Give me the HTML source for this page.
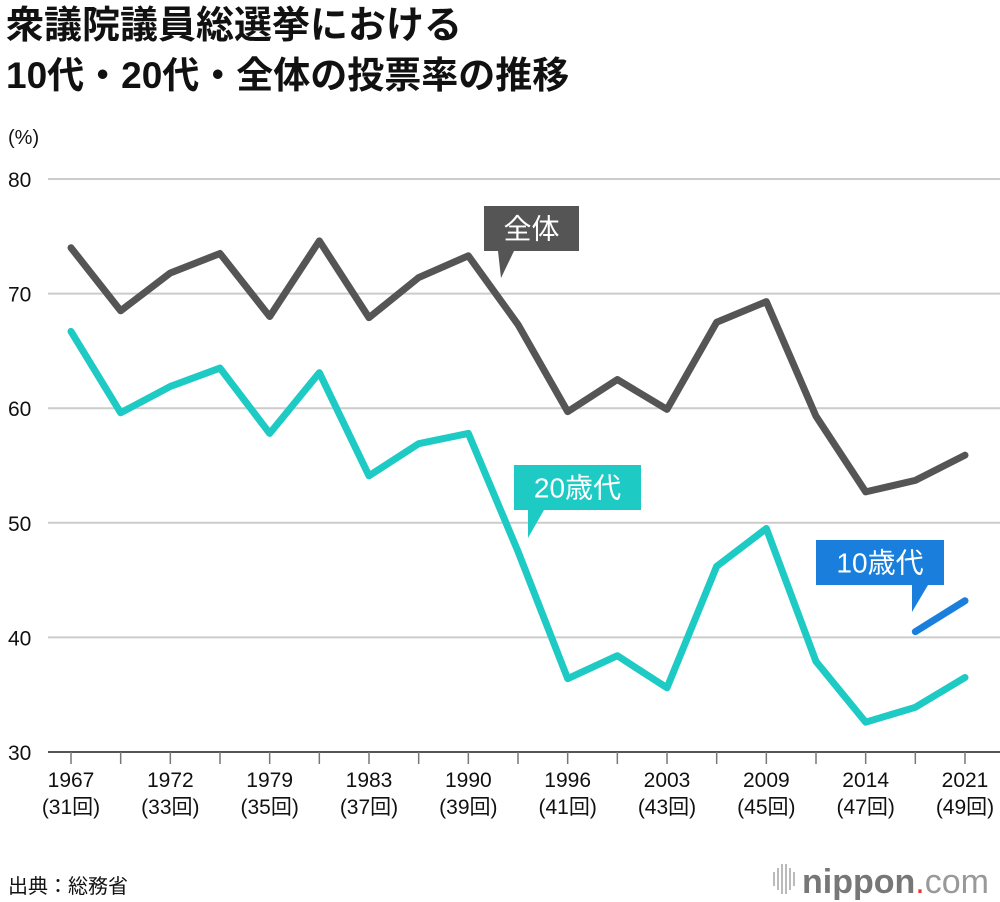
<!DOCTYPE html>
<html><head><meta charset="utf-8"><style>
body{margin:0;background:#fff;font-family:"Liberation Sans","Noto Sans CJK JP",sans-serif;}
#wrap{position:relative;width:1000px;height:902px;overflow:hidden;}
</style></head><body>
<div id="wrap">
<svg id="chart" width="1000" height="902"></svg>
</div>
<script>
const years=["1967","1969","1972","1976","1979","1980","1983","1986","1990","1993","1996","2000","2003","2005","2009","2012","2014","2017","2021"];
const sessions=["31","32","33","34","35","36","37","38","39","40","41","42","43","44","45","46","47","48","49"];
const totalVals=[74.0,68.5,71.8,73.5,68.0,74.6,67.9,71.4,73.3,67.3,59.7,62.5,59.9,67.5,69.3,59.3,52.7,53.7,55.9];
const twentiesVals=[66.7,59.6,61.9,63.5,57.8,63.1,54.1,56.9,57.8,47.5,36.4,38.4,35.6,46.2,49.5,37.9,32.6,33.9,36.5];
const teensVals=[null,null,null,null,null,null,null,null,null,null,null,null,null,null,null,null,null,40.5,43.2];
const yTicks=[30,40,50,60,70,80];
const NS="http://www.w3.org/2000/svg";
const svg=document.getElementById('chart');
const X=i=>71+i*(965-71)/18;
const Y=v=>752-(v-30)*(752-179)/50;
function el(tag,attrs,parent){const e=document.createElementNS(NS,tag);for(const k in attrs)e.setAttribute(k,attrs[k]);(parent||svg).appendChild(e);return e;}
function txt(x,y,s,attrs){const t=el('text',Object.assign({x:x,y:y},attrs));t.textContent=s;return t;}
let t1=txt(6,38,"衆議院議員総選挙における",{"font-size":38,"font-weight":"bold",fill:"#111"});

let t2=txt(6,88,"10代・20代・全体の投票率の推移",{"font-size":37,"font-weight":"bold",fill:"#111"});

let u=txt(8,144,"(%)",{"font-size":20,fill:"#111"});

yTicks.forEach(v=>{
 const l=el('line',{x1:48,x2:1000,y1:Y(v),y2:Y(v),stroke:v===30?"#555":"#ccc","stroke-width":2});
 
 const t=txt(8,Y(v)+8,String(v),{"font-size":21,fill:"#111"});
 
});
years.forEach((y,i)=>{
 const tk=el('line',{x1:X(i),x2:X(i),y1:Y(30),y2:Y(30)+12,stroke:"#777","stroke-width":1.5});
 
 if(i%2===0){
  const a=txt(X(i),787,y,{"font-size":21,fill:"#111","text-anchor":"middle"});
  
  const b=txt(X(i),814,"("+sessions[i]+"回)",{"font-size":21,fill:"#111","text-anchor":"middle"});
  
 }
});
function series(vals,color,name){
 let d="";vals.forEach((v,i)=>{if(v==null)return;d+=(d?"L":"M")+X(i)+","+Y(v);});
 const p=el('path',{d:d,fill:"none",stroke:color,"stroke-width":7,"stroke-linejoin":"round","stroke-linecap":"round"});
 
}
series(totalVals,"#555","line-total");
series(twentiesVals,"#1ecac4","line-20s");
series(teensVals,"#1a7fdc","line-10s");
function callout(x,y,w,h,label,color,p1,p2,tx,ty,name){
 const g=el('g',{});
 
 el('rect',{x:x,y:y,width:w,height:h,fill:color},g);
 el('polygon',{points:`${p1},${y+h} ${p2},${y+h} ${tx},${ty}`,fill:color},g);
 const t=document.createElementNS(NS,'text');
 t.setAttribute('x',x+w/2);t.setAttribute('y',y+h/2+10);t.setAttribute('text-anchor','middle');
 t.setAttribute('font-size',28);t.setAttribute('fill','#fff');t.textContent=label;g.appendChild(t);
}
callout(484,206,95,45,"全体","#555",498,514,501,278,"label-total");
callout(514,465,127,45,"20歳代","#1ecac4",528,544,528,538,"label-20s");
callout(816,540,128,45,"10歳代","#1a7fdc",912,928,912,612,"label-10s");
let s=txt(8,893,"出典：総務省",{"font-size":20,fill:"#111"});

const lg=el('g',{});
[0,4,8,12,16,20].forEach((dx,i)=>{el('rect',{x:773+dx,y:[872,868,864,864,868,872][i],width:2,height:[14,22,30,30,22,14][i],fill:"#bbb"},lg);});
const lt=document.createElementNS(NS,'text');lt.setAttribute('x',802);lt.setAttribute('y',893);lt.setAttribute('font-size',34);lt.setAttribute('fill','#777');
lt.innerHTML='<tspan font-weight="bold">nippon</tspan><tspan fill="#e33">.</tspan><tspan fill="#999">com</tspan>';lg.appendChild(lt);
</script>
</body></html>
